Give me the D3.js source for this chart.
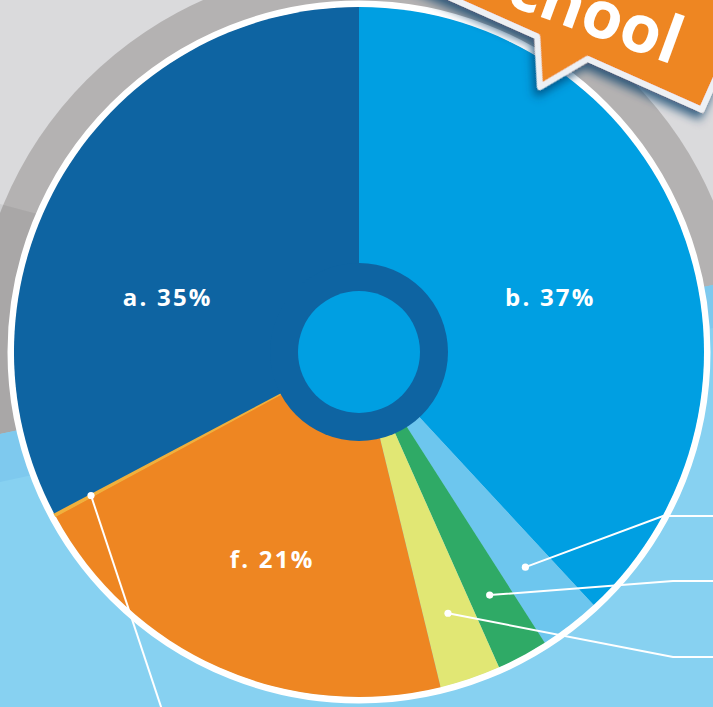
<!DOCTYPE html>
<html>
<head>
<meta charset="utf-8">
<script src="https://cdn.jsdelivr.net/npm/d3@7"></script>
<style>
  html, body { margin: 0; padding: 0; background: #dadadc; overflow: hidden; }
  svg { display: block; }
</style>
</head>
<body>
<div id="chart"></div>
<script>
// slices clockwise from 12 o'clock
const slices = ["b", "c", "d", "e", "f", "g", "a"];
const shares = [38.1, 2.85, 2.4, 2.85, 20.9, 0.15, 32.75];
const pctLabels = ["b. 37%", "", "", "", "f. 21%", "", "a. 35%"];
const bannerText = "school";

const W = 713, H = 707;
const cx = 359, cy = 352;
const R = 345;

const colour = d3.scaleOrdinal()
  .domain(slices)
  .range(["#009fe2", "#6dc6ee", "#2faa66", "#e1e774", "#ee8622", "#f2b03c", "#0e64a2"]);

// where the three big labels sit (angle in degrees, radius)
const labelSpots = { a: [286, 199], b: [74, 199], f: [202.7, 225] };
// leader lines: dot radius + elbow / row y on the right
const leaders = [
  { key: "c", r: 272, elbow: [663, 516] },
  { key: "d", r: 276, elbow: [673, 581] },
  { key: "e", r: 276, elbow: [673, 657] },
  { key: "g", r: 304, elbow: [172, 740] }
];

const svg = d3.select("#chart").append("svg")
  .attr("width", W)
  .attr("height", H);

const defs = svg.append("defs");
const shadow = defs.append("filter").attr("id", "shadow")
  .attr("x", "-20%").attr("y", "-20%").attr("width", "140%").attr("height", "160%");
shadow.append("feGaussianBlur").attr("in", "SourceAlpha").attr("stdDeviation", 5).attr("result", "blur");
shadow.append("feOffset").attr("dx", 0).attr("dy", 7).attr("result", "off");
shadow.append("feFlood").attr("flood-color", "#0a3a66").attr("flood-opacity", 0.75);
shadow.append("feComposite").attr("in2", "off").attr("operator", "in");
const merge = shadow.append("feMerge");
merge.append("feMergeNode");
merge.append("feMergeNode").attr("in", "SourceGraphic");

// background
svg.append("rect").attr("width", W).attr("height", H).attr("fill", "#dadadc");

// gray ring behind the pie
svg.append("circle")
  .attr("cx", cx).attr("cy", cy)
  .attr("r", 385)
  .attr("fill", "#b4b2b2");

// darker gray patch on the left
svg.append("polygon")
  .attr("points", "0,204 45,216 45,430 0,436")
  .attr("fill", "#000").attr("opacity", 0.06);

// light blue floor
svg.append("polygon")
  .attr("points", `0,434 ${W},285 ${W},${H} 0,${H}`)
  .attr("fill", "#87d1f1");
svg.append("polygon")
  .attr("points", `0,434 ${W},285 ${W},328 0,482`)
  .attr("fill", "#7ec9ee");

const g = svg.append("g").attr("transform", `translate(${cx},${cy})`);

const pie = d3.pie().sort(null).value(d => d.value);
const data = pie(slices.map((k, i) => ({ key: k, value: shares[i], label: pctLabels[i] })));

const arc = d3.arc().innerRadius(0).outerRadius(R);

// white rim
g.append("circle").attr("r", R + 3).attr("fill", "none")
  .attr("stroke", "#fff").attr("stroke-width", 7);

g.selectAll("path.slice")
  .data(data)
  .join("path")
  .attr("class", "slice")
  .attr("d", arc)
  .attr("fill", d => colour(d.data.key))
  .attr("stroke", d => d.data.key === "g" ? colour("g") : "none")
  .attr("stroke-width", 1.2);

// hub
g.append("circle").attr("r", 89).attr("fill", colour("a"));
g.append("circle").attr("r", 61).attr("fill", colour("b"));

// big labels
const polar = (deg, r) => {
  const t = deg * Math.PI / 180;
  return [r * Math.sin(t), -r * Math.cos(t)];
};
g.selectAll("text.pct")
  .data(data.filter(d => d.data.label))
  .join("text")
  .attr("class", "pct")
  .attr("transform", d => {
    const s = labelSpots[d.data.key];
    return `translate(${polar(s[0], s[1])})`;
  })
  .attr("dy", "0.36em")
  .attr("text-anchor", "middle")
  .attr("fill", "#fff")
  .style("font-family", "'Open Sans', sans-serif")
  .style("font-weight", 700)
  .style("font-size", "24px")
  .style("letter-spacing", "2.2px")
  .text(d => d.data.label);

// leader lines
const byKey = new Map(data.map(d => [d.data.key, d]));
leaders.forEach(l => {
  const d = byKey.get(l.key);
  const mid = (d.startAngle + d.endAngle) / 2 * 180 / Math.PI;
  const p = polar(mid, l.r);
  const dot = [cx + p[0], cy + p[1]];
  const pts = [dot, l.elbow];
  if (l.key !== "g") pts.push([W + 10, l.elbow[1]]);
  svg.append("path")
    .attr("d", d3.line()(pts))
    .attr("fill", "none")
    .attr("stroke", "#fff")
    .attr("stroke-width", 2);
  svg.append("circle")
    .attr("cx", dot[0]).attr("cy", dot[1])
    .attr("r", 3.6)
    .attr("fill", "#fff");
});

// orange "school" banner, top right
const banner = svg.append("g")
  .attr("transform", "translate(540,87) rotate(24)");
banner.append("path")
  .attr("d", d3.line()([[-420, -45], [-23, -45], [0, 0], [32, -45], [157, -45], [157, -170], [-420, -170]]) + "Z")
  .attr("fill", "#ee8622")
  .attr("stroke", "#edf0f4")
  .attr("stroke-width", 6)
  .attr("stroke-linejoin", "round")
  .attr("filter", "url(#shadow)");
banner.append("text")
  .attr("transform", "translate(112,-74) rotate(-4)")
  .attr("text-anchor", "end")
  .attr("fill", "#fff")
  .style("font-family", "'Open Sans', sans-serif")
  .style("font-weight", 700)
  .style("font-size", "66px")
  .text(bannerText);
</script>
</body>
</html>
